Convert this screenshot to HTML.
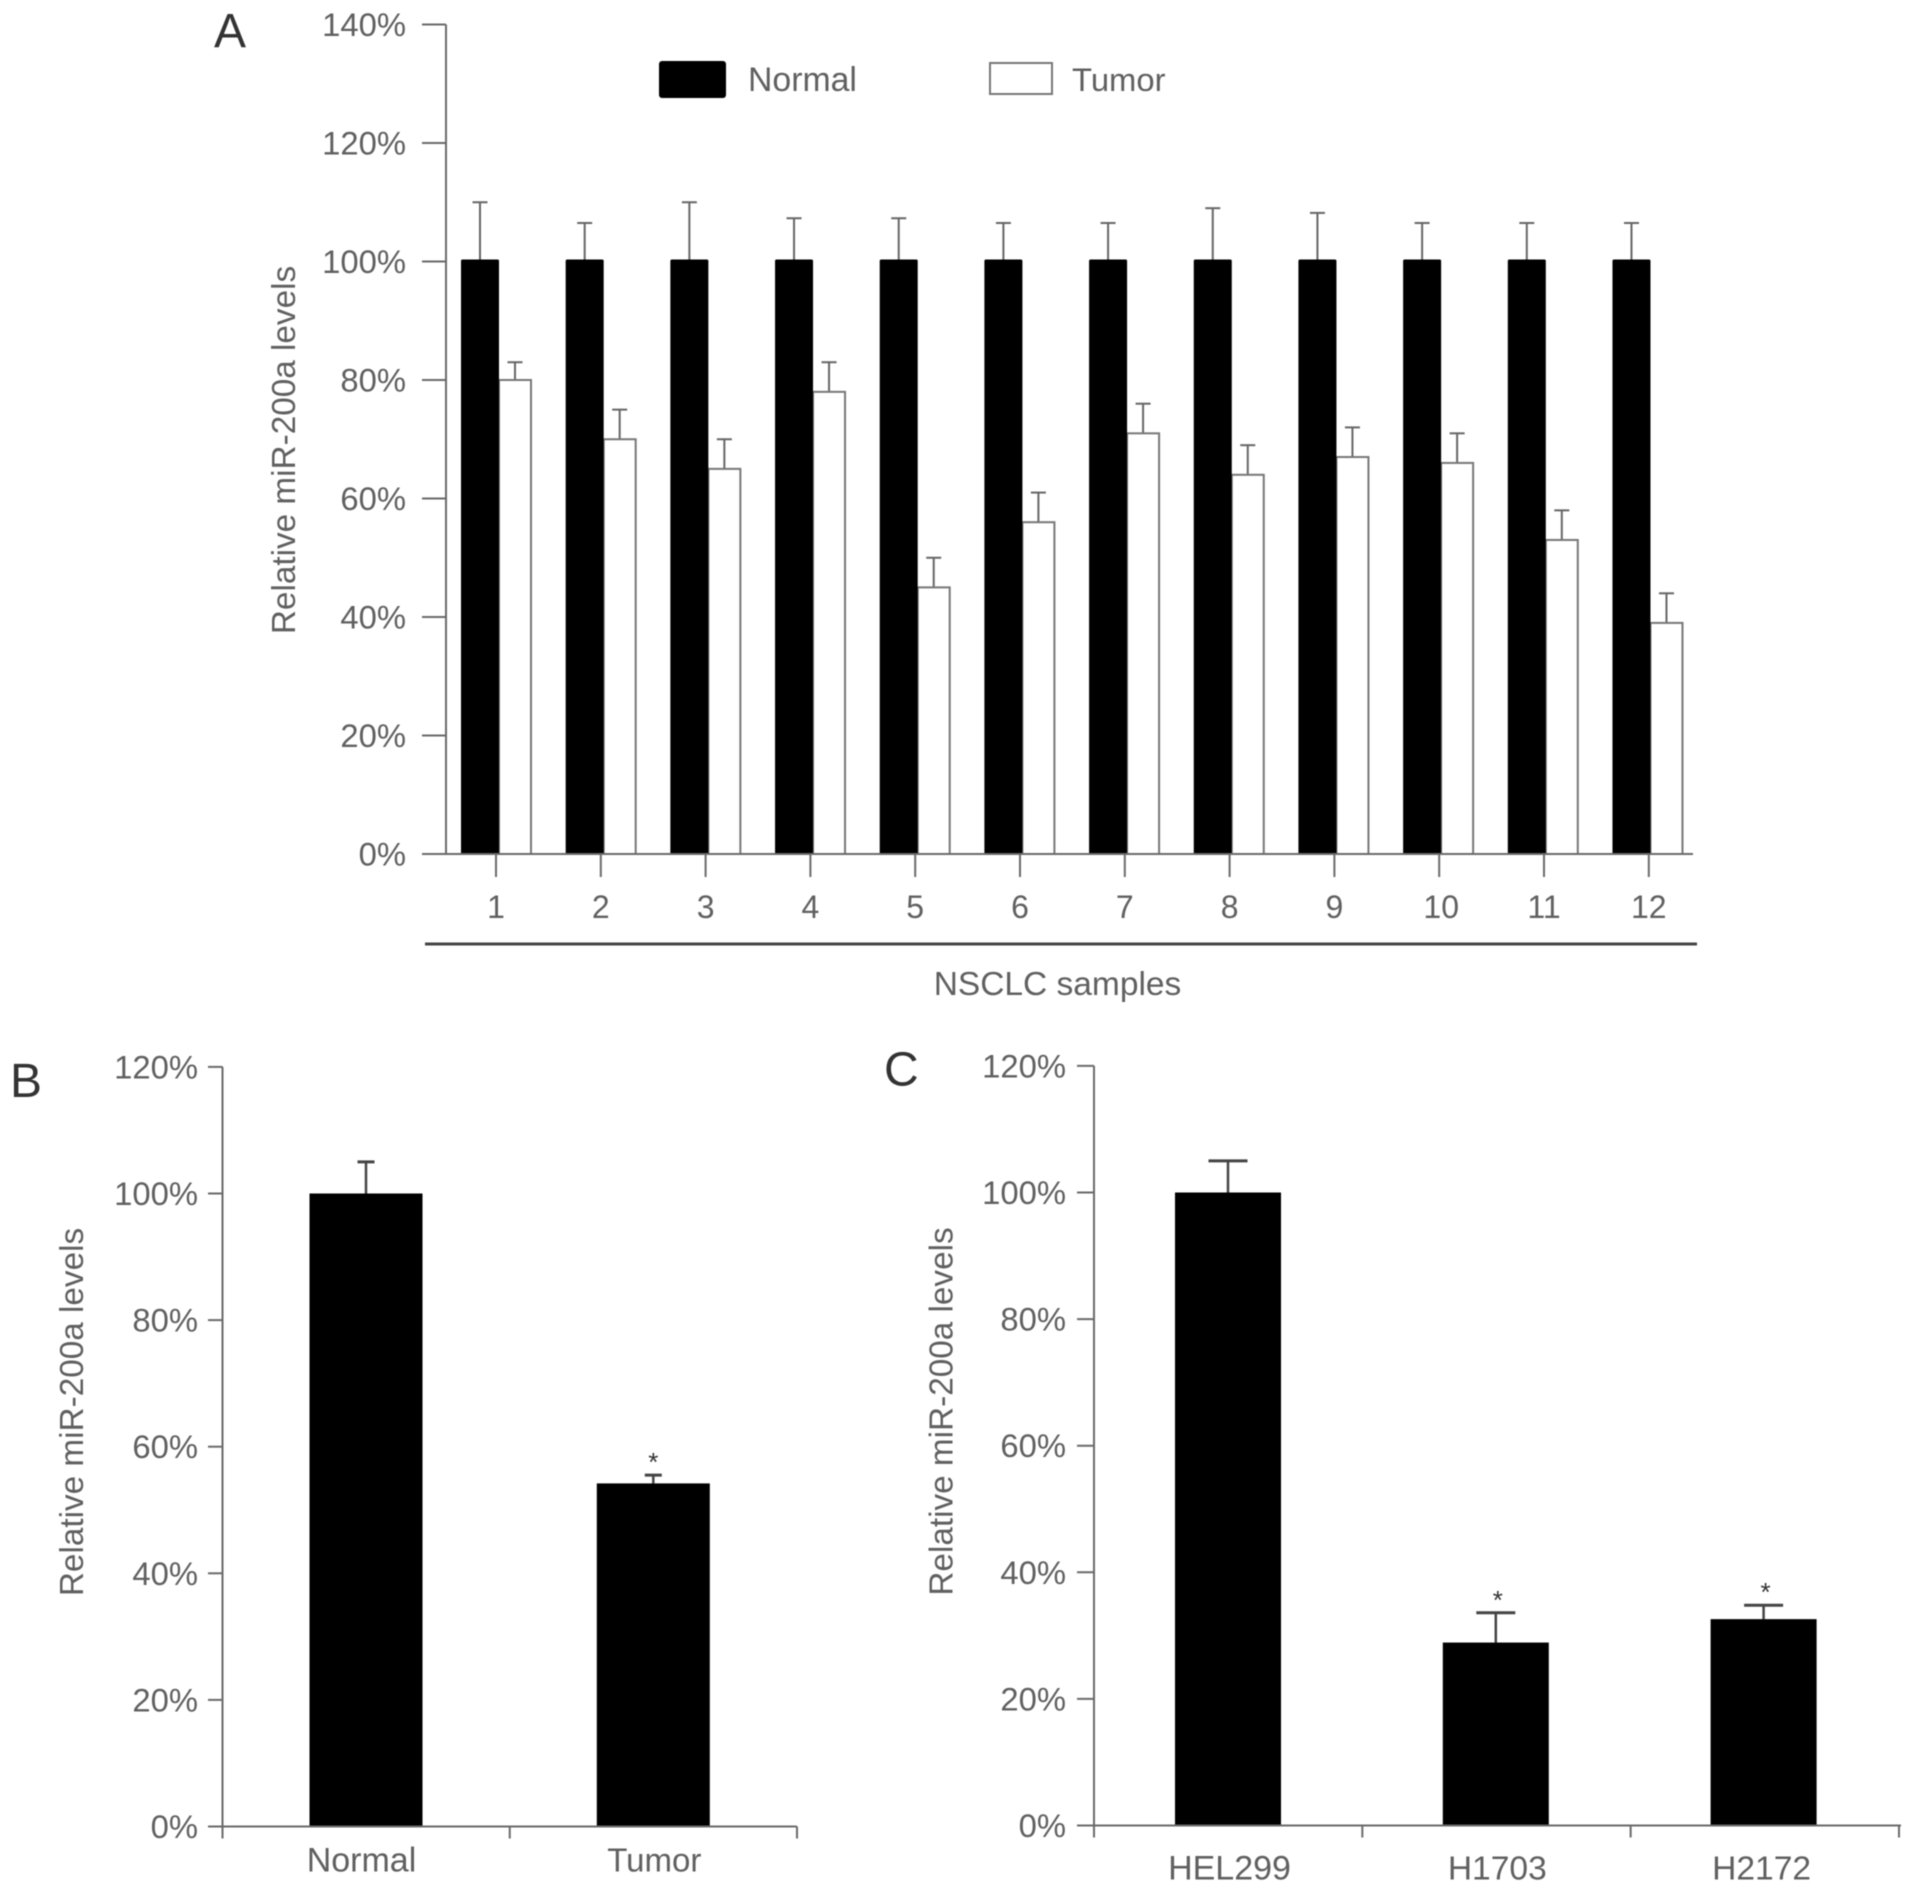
<!DOCTYPE html>
<html lang="en">
<head>
<meta charset="utf-8">
<title>Relative miR-200a levels</title>
<style>
html,body{margin:0;padding:0;background:#fff;}
body{width:1913px;height:1892px;overflow:hidden;}
svg{display:block;filter:blur(0.55px);}
text{font-family:"Liberation Sans",sans-serif;fill:#606060;}
</style>
</head>
<body>
<svg id="figure" xmlns="http://www.w3.org/2000/svg" width="1913" height="1892" viewBox="0 0 1913 1892">
  <rect x="0" y="0" width="1913" height="1892" fill="#ffffff"/>
  <text x="214" y="47" font-size="48" style="fill:#333">A</text>
  <text x="10" y="1097" font-size="48" style="fill:#333">B</text>
  <text x="884" y="1085.5" font-size="48" style="fill:#333">C</text>

  <rect x="659" y="61" width="67" height="37" rx="3" fill="#000"/>
  <text x="748" y="91" font-size="33.8">Normal</text>
  <rect x="990" y="63" width="62" height="31" fill="#fff" stroke="#777" stroke-width="2"/>
  <text x="1072" y="91" font-size="32.8">Tumor</text>

  <line x1="425" y1="944" x2="1697" y2="944" stroke="#444" stroke-width="3"/>
  <text x="1057.5" y="995" font-size="33.5" text-anchor="middle">NSCLC samples</text>
  <text transform="translate(295 450) rotate(-90)" font-size="33.3" text-anchor="middle">Relative miR-200a levels</text>
  <text transform="translate(83 1412) rotate(-90)" font-size="33.3" text-anchor="middle">Relative miR-200a levels</text>
  <text transform="translate(952.5 1411.5) rotate(-90)" font-size="33.3" text-anchor="middle">Relative miR-200a levels</text>
</svg>
<script>
// Panel A data
const sampleLabels = ['1','2','3','4','5','6','7','8','9','10','11','12'];
const normalValues = [100,100,100,100,100,100,100,100,100,100,100,100];
const normalErrorTops = [110,106.5,110,107.3,107.3,106.5,106.5,109,108.2,106.5,106.5,106.5];
const tumorValues = [80,70,65,78,45,56,71,64,67,66,53,39];
const tumorErrorTops = [83,75,70,83,50,61,76,69,72,71,58,44];
const panelATicks = [0,20,40,60,80,100,120,140];
// Panel B data
const panelBCategories = ['Normal','Tumor'];
const panelBValues = [100,54.2];
const panelBErrorTops = [105,55.5];
const panelBStars = [false,true];
// Panel C data
const panelCCategories = ['HEL299','H1703','H2172'];
const panelCValues = [100,28.9,32.6];
const panelCErrorTops = [105,33.6,34.8];
const panelCStars = [false,true,true];
const panelBCTicks = [0,20,40,60,80,100,120];

const svg = document.getElementById('figure');
const NS = 'http://www.w3.org/2000/svg';
const AXIS = '#6a6a6a';

function make(tag, attrs) {
  const node = document.createElementNS(NS, tag);
  for (const key in attrs) node.setAttribute(key, attrs[key]);
  svg.appendChild(node);
  return node;
}
function segment(x1, y1, x2, y2, color, width) {
  return make('line', {x1: x1, y1: y1, x2: x2, y2: y2, stroke: color, 'stroke-width': width});
}
function label(x, y, str, size, anchor) {
  const node = make('text', {x: x, y: y, 'font-size': size, 'text-anchor': anchor});
  node.textContent = str;
  return node;
}

// Axis functions
const yA = v => 854 - v * 5.925;
const yB = v => 1826.5 - v * 6.33;
const yC = v => 1825.5 - v * 6.33;
const xANormal = i => 480 + 104.68 * i;
const xATumor = i => 515 + 104.68 * i;
const xATick = i => 496 + 104.8 * i;
const xB = i => 366 + 287.3 * i;
const xC = i => 1228 + 267.8 * i;
const labelNudgeA = i => (i === 9 ? 2 : 0);
const labelNudgeB = i => (i === 0 ? -4.5 : 1);
const labelNudgeC = i => (i === 0 ? 1.5 : (i === 1 ? 1.5 : -2));

function drawYAxis(panel, ticks, scale, axisX, tickLeft, labelRight) {
  const axis = segment(axisX, scale(ticks[ticks.length - 1]), axisX, scale(0), AXIS, 2);
  
  
  ticks.forEach(t => {
    const mark = segment(tickLeft, scale(t), axisX, scale(t), AXIS, 2);
    
    
    const text = label(labelRight, scale(t) + 11.5, t + '%', 32.8, 'end');
    
    
  });
}
function drawError(panel, name, x, yBase, yTop, capWidth, color, width, capStroke) {
  const stem = segment(x, yBase, x, yTop, color, width);
  
  
  const cap = segment(x - capWidth / 2, yTop, x + capWidth / 2, yTop, color, capStroke);
  
  
}

// Panel A
drawYAxis('panel-a', panelATicks, yA, 446, 422, 406);
sampleLabels.forEach((s, i) => {
  const errN = normalErrorTops[i];
  const errT = tumorErrorTops[i];
  drawError('panel-a', 'normal-' + s, xANormal(i), yA(normalValues[i]), yA(errN), 15, '#666', 2, 2);
  drawError('panel-a', 'tumor-' + s, xATumor(i), yA(tumorValues[i]), yA(errT), 15, '#666', 2, 2);
  const white = make('rect', {x: xATumor(i) - 16, y: yA(tumorValues[i]), width: 32, height: yA(0) - yA(tumorValues[i]), fill: '#fff', stroke: '#777', 'stroke-width': 2});
  
  
  const black = make('rect', {x: xANormal(i) - 19, y: yA(normalValues[i]) - 2, width: 38, height: yA(0) - yA(normalValues[i]) + 2, fill: '#000', rx: 1.5});
  
  
  const tick = segment(xATick(i), yA(0), xATick(i), yA(0) + 23, AXIS, 2);
  
  
  const text = label(xATick(i) + labelNudgeA(i), 918, s, 32, 'middle');
  
  
});
const baselineA = segment(422, yA(0), 1693, yA(0), AXIS, 2);



// Panel B
drawYAxis('panel-b', panelBCTicks, yB, 222.5, 208, 198);
panelBCategories.forEach((c, i) => {
  drawError('panel-b', c, xB(i), yB(panelBValues[i]), yB(panelBErrorTops[i]), 17, '#444', 2.5, 3);
  const bar = make('rect', {x: xB(i) - 56.5, y: yB(panelBValues[i]), width: 113, height: yB(0) - yB(panelBValues[i]), fill: '#000'});
  
  
  const text = label(xB(i) + labelNudgeB(i), 1871.5, c, i === 0 ? 34 : 33, 'middle');
  
  
  if (panelBStars[i]) {
    const star = label(xB(i), yB(panelBErrorTops[i]) - 4, '*', 26, 'middle');
    
    
    star.style.fill = '#333';
  }
});
const baselineB = segment(222.5, yB(0), 797, yB(0), AXIS, 2);


[0, 0.5, 1].forEach(f => {
  const px = 222.5 + (797 - 222.5) * f;
  const mark = segment(px, yB(0), px, yB(0) + 12, AXIS, 2);
  
  
});

// Panel C
drawYAxis('panel-c', panelBCTicks, yC, 1094, 1077, 1066);
panelCCategories.forEach((c, i) => {
  drawError('panel-c', c, xC(i), yC(panelCValues[i]), yC(panelCErrorTops[i]), 39, '#444', 2.5, 3);
  const bar = make('rect', {x: xC(i) - 53, y: yC(panelCValues[i]), width: 106, height: yC(0) - yC(panelCValues[i]), fill: '#000'});
  
  
  const text = label(xC(i) + labelNudgeC(i), 1879.5, c, i === 0 ? 34 : 33.6, 'middle');
  
  
  if (panelCStars[i]) {
    const star = label(xC(i) + 2, yC(panelCErrorTops[i]) - 4, '*', 26, 'middle');
    
    
    star.style.fill = '#333';
  }
});
const baselineC = segment(1094, yC(0), 1901, yC(0), AXIS, 2);


[0, 1, 2, 3].forEach(n => {
  const px = 1094 + 268.33 * n;
  const mark = segment(px, yC(0), px, yC(0) + 12, AXIS, 2);
  
  
});
</script>
</body>
</html>
